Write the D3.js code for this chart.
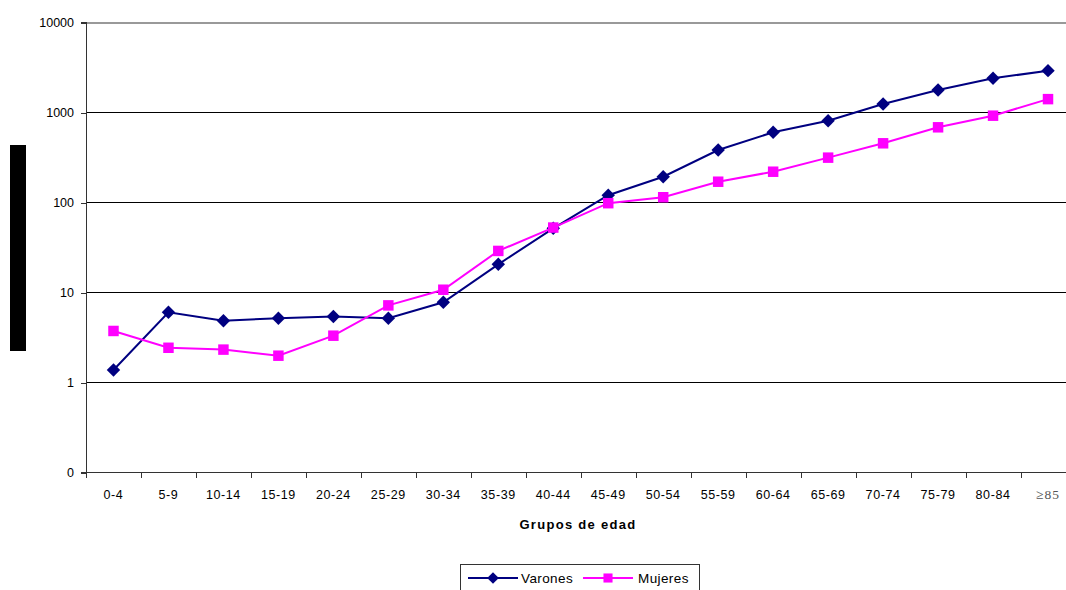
<!DOCTYPE html>
<html>
<head>
<meta charset="utf-8">
<script src="https://cdn.jsdelivr.net/npm/d3@7"></script>
<style>
  html, body { margin: 0; padding: 0; background: #fff; }
  svg { display: block; }
</style>
</head>
<body>
<svg id="chart" width="1066" height="590"></svg>
<script>
// Age groups (quinquennial) and rates by sex
const grupos = ["0-4","5-9","10-14","15-19","20-24","25-29","30-34","35-39","40-44",
                "45-49","50-54","55-59","60-64","65-69","70-74","75-79","80-84","≥85"];
const varones = [1.36, 5.95, 4.8, 5.1, 5.35, 5.1, 7.7, 20.3, 51,
                 119, 191, 378, 595, 800, 1228, 1756, 2367, 2880];
const mujeres = [3.69, 2.4, 2.29, 1.96, 3.27, 7.1, 10.6, 28.6, 52,
                 97, 113, 168, 217, 311, 449, 676, 910, 1390];
const yTicks = [0.1, 1, 10, 100, 1000, 10000];
const yTickLabels = ["0", "1", "10", "100", "1000", "10000"];

const svg = d3.select("#chart");
const plotL = 86, plotR = 1075.5, plotT = 22, plotB = 472;

const x = d3.scaleBand().domain(grupos).range([plotL, plotR]).padding(0);
const y = d3.scaleLog().domain([0.1, 10000]).range([plotB, plotT]);
const font = "Liberation Sans, Arial, sans-serif";

// horizontal gridlines
svg.append("g")
  .attr("shape-rendering", "crispEdges")
  .selectAll("line")
  .data(yTicks.slice(1))
  .join("line")
  .attr("x1", plotL).attr("x2", plotR)
  .attr("y1", d => y(d) + 0.5).attr("y2", d => y(d) + 0.5)
  .attr("stroke", d => d === 10000 ? "#999" : "#000")
  .attr("stroke-width", d => d === 10000 ? 2 : 1);

// y axis
const yAxis = d3.axisLeft(y)
  .tickValues(yTicks)
  .tickFormat((d, i) => yTickLabels[i])
  .tickSize(5).tickPadding(7);
const gy = svg.append("g").attr("transform", `translate(${plotL},0.5)`).call(yAxis);
gy.attr("shape-rendering", "crispEdges");
gy.select(".domain").attr("stroke", "#333").attr("stroke-width", 1.5);
gy.selectAll(".tick line").attr("stroke", "#333");
gy.selectAll(".tick text")
  .attr("font-family", font)
  .attr("font-size", 12.5).attr("fill", "#000");

// x axis with ticks at category boundaries
const gx = svg.append("g").attr("transform", `translate(0,${plotB + 0.5})`).attr("shape-rendering", "crispEdges");
gx.append("line").attr("x1", plotL).attr("x2", plotR)
  .attr("y1", 0).attr("y2", 0).attr("stroke", "#333").attr("stroke-width", 1.5);
gx.selectAll("line.tk")
  .data(grupos)
  .join("line").attr("class", "tk")
  .attr("x1", d => Math.round(x(d)) + 0.5).attr("x2", d => Math.round(x(d)) + 0.5)
  .attr("y1", 0).attr("y2", 5).attr("stroke", "#333");
gx.selectAll("text")
  .data(grupos)
  .join("text")
  .attr("x", d => x(d) + x.bandwidth() / 2)
  .attr("y", 26.5)
  .attr("text-anchor", "middle")
  .attr("shape-rendering", "auto")
  .attr("font-family", d => d === "≥85" ? "Liberation Serif, Times New Roman, serif" : font)
  .attr("font-size", d => d === "≥85" ? 13.5 : 12.5)
  .attr("fill", d => d === "≥85" ? "#555" : "#000")
  .attr("letter-spacing", d => d === "≥85" ? 1 : 0.6)
  .text(d => d);

// axis title
svg.append("text")
  .attr("x", 578).attr("y", 529)
  .attr("text-anchor", "middle")
  .attr("font-family", font)
  .attr("font-size", 13).attr("font-weight", "bold")
  .attr("letter-spacing", 1.3)
  .text("Grupos de edad");

// vertical axis title block
svg.append("rect").attr("x", 10).attr("y", 145).attr("width", 16).attr("height", 206).attr("fill", "#000");

const cx = d => x(d) + x.bandwidth() / 2;
const series = [
  { name: "Varones", values: varones, color: "#000080", symbol: d3.symbolSquare, size: 90, rotate: 45 },
  { name: "Mujeres", values: mujeres, color: "#ff00ff", symbol: d3.symbolSquare, size: 110, rotate: 0 }
];

const line = d3.line().x((d, i) => cx(grupos[i])).y(d => y(d));

series.forEach(s => {
  svg.append("path")
    .datum(s.values)
    .attr("fill", "none")
    .attr("stroke", s.color)
    .attr("stroke-width", 2)
    .attr("d", line);
  svg.append("g")
    .selectAll("path")
    .data(s.values)
    .join("path")
    .attr("transform", (d, i) => `translate(${cx(grupos[i])},${y(d)}) rotate(${s.rotate})`)
    .attr("d", d3.symbol().type(s.symbol).size(s.size))
    .attr("fill", s.color);
});

// legend
const lg = svg.append("g");
lg.append("rect").attr("x", 460.5).attr("y", 564.5).attr("width", 239).attr("height", 40)
  .attr("fill", "#fff").attr("stroke", "#333").attr("stroke-width", 1);
const legendItems = [
  { s: series[0], x0: 468, tx: 521 },
  { s: series[1], x0: 583, tx: 638 }
];
legendItems.forEach(it => {
  const ly = 578;
  lg.append("line").attr("x1", it.x0).attr("x2", it.x0 + 50)
    .attr("y1", ly).attr("y2", ly).attr("stroke", it.s.color).attr("stroke-width", 2);
  lg.append("path")
    .attr("transform", `translate(${it.x0 + 25},${ly}) rotate(${it.s.rotate})`)
    .attr("d", d3.symbol().type(it.s.symbol).size(it.s.size * 0.75))
    .attr("fill", it.s.color);
  lg.append("text").attr("x", it.tx).attr("y", ly + 5)
    .attr("font-family", font)
    .attr("font-size", 13.5)
    .attr("letter-spacing", 0.4)
    .text(it.s.name);
});
</script>
</body>
</html>
